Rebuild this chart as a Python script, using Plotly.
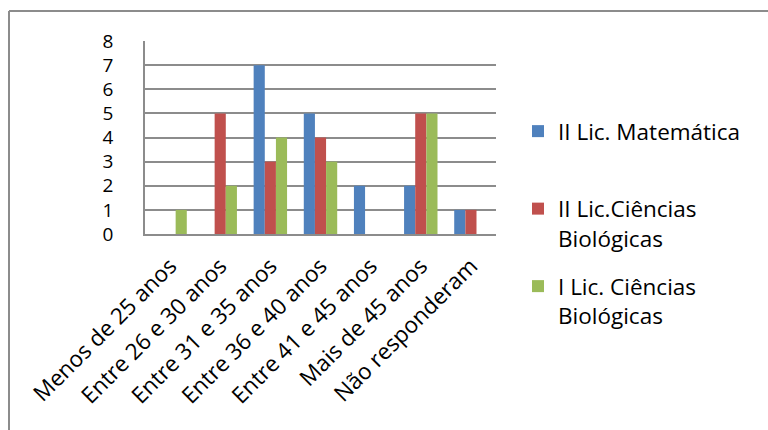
import plotly.graph_objects as go

categories = ["Menos de 25 anos", "Entre 26 e 30 anos", "Entre 31 e 35 anos",
              "Entre 36 e 40 anos", "Entre 41 e 45 anos", "Mais de 45 anos",
              "Não responderam"]
matematica_ii = [0, 0, 7, 5, 2, 2, 1]
biologicas_ii = [0, 5, 3, 4, 0, 5, 1]
biologicas_i = [1, 2, 4, 3, 0, 5, 0]
series_names = ["II Lic. Matemática<br> ", "II Lic.Ciências<br>Biológicas", "I Lic. Ciências<br>Biológicas"]
series_colors = ["#4F81BD", "#C0504D", "#9BBB59"]
y_ticks = list(range(0, 9))

FONT = "'Open Sans', sans-serif"
W, H = 768, 430
L, R, T, B = 145, 272, 41, 196

fig = go.Figure()
for name, vals, col in zip(series_names, [matematica_ii, biologicas_ii, biologicas_i], series_colors):
    fig.add_trace(go.Bar(x=categories, y=vals, name=name, marker_color=col,
                         marker_line_width=0, legendgroup=name))

pw = W - L - R
ph = H - T - B


def px_to_paper_x(px):
    return (px - L) / pw


def px_to_paper_y(py):
    return (H - B - py) / ph


# outer frame (top and left edges)
frame = dict(type="line", xref="paper", yref="paper", line=dict(color="#8C8C8C", width=2))
fig.add_shape(**frame, x0=px_to_paper_x(9), x1=px_to_paper_x(W + 5),
              y0=px_to_paper_y(11), y1=px_to_paper_y(11))
fig.add_shape(**frame, x0=px_to_paper_x(9), x1=px_to_paper_x(9),
              y0=px_to_paper_y(11), y1=px_to_paper_y(H + 5))

fig.update_layout(
    width=W, height=H,
    margin=dict(l=L, r=R, t=T, b=B, autoexpand=False),
    paper_bgcolor="white", plot_bgcolor="white",
    barmode="group", bargap=1.5 / 4.5, bargroupgap=0,
    font=dict(family=FONT, color="black", size=22),
    xaxis=dict(showline=True, linecolor="#8C8C8C", linewidth=2, tickangle=-45,
               tickfont=dict(size=22.5), ticks="", showgrid=False, ticklabelstandoff=8),
    yaxis=dict(range=[0, 8], tickvals=y_ticks, showgrid=True, gridcolor="#8C8C8C",
               gridwidth=1.5, showline=True, linecolor="#8C8C8C", linewidth=1.5,
               ticks="", tickfont=dict(size=19), ticklabelstandoff=26, zeroline=False),
    legend=dict(x=px_to_paper_x(518), y=px_to_paper_y(110), xanchor="left", yanchor="top",
                font=dict(size=22.5), valign="top", tracegroupgap=16, traceorder="grouped",
                maxheight=400, bgcolor="rgba(0,0,0,0)"),
)

fig.write_html("out.html")
